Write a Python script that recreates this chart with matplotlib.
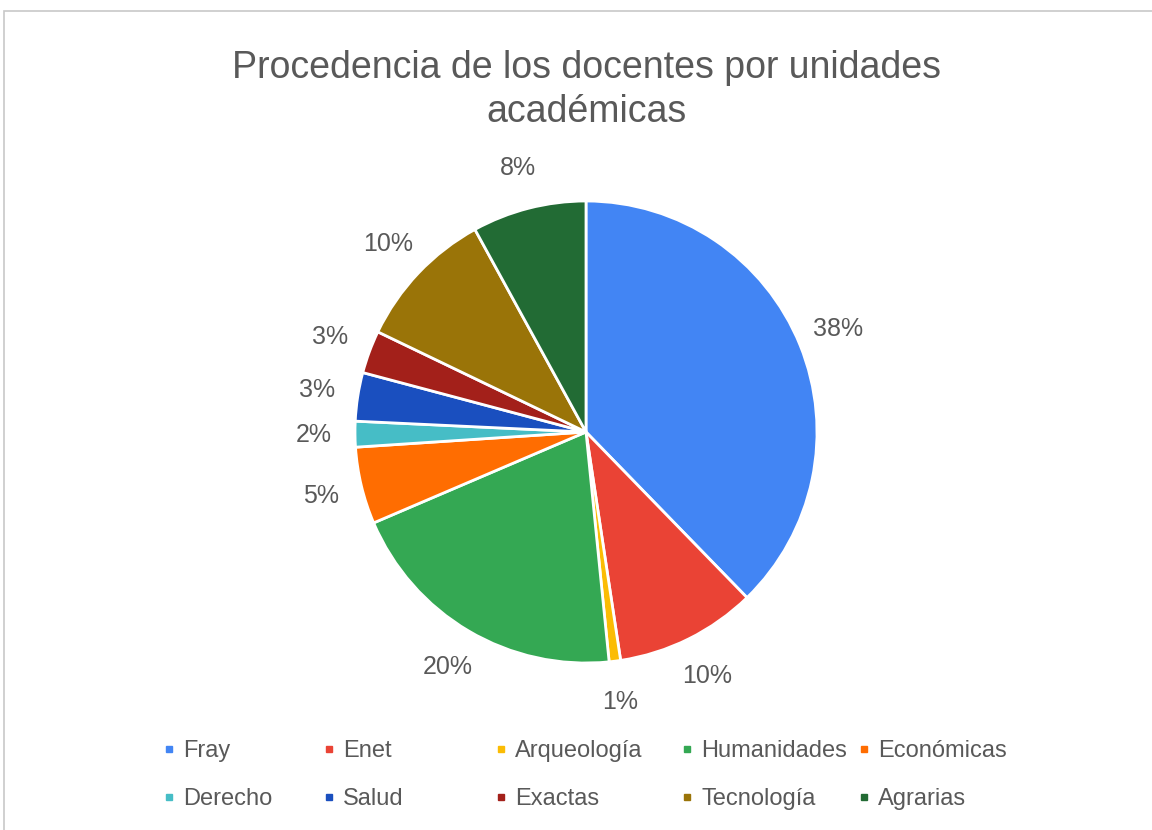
import matplotlib
matplotlib.use("Agg")
from matplotlib import pyplot as plt
from matplotlib.lines import Line2D
from matplotlib.patches import Rectangle

# datos (porcentajes)
unidades = ["Fray", "Enet", "Arqueología", "Humanidades", "Económicas",
            "Derecho", "Salud", "Exactas", "Tecnología", "Agrarias"]
porcentajes = [37.8, 9.9, 0.8, 20.2, 5.4, 1.8, 3.4, 3.0, 9.9, 8.0]
colores = ["#4285F4", "#EA4335", "#FBBC04", "#34A853", "#FF6D01",
           "#46BDC6", "#1A4FBF", "#A3201A", "#9A7408", "#226B34"]

titulo = "Procedencia de los docentes por unidades\nacadémicas"
gris = "#595959"

plt.rcParams["font.family"] = ["Liberation Sans", "DejaVu Sans"]

fig = plt.figure(figsize=(11.52, 8.30), dpi=100)
fig.patch.set_facecolor("white")

# marco de la captura
fig.patches.append(Rectangle((4 / 1152, -0.1), 1.2, 1.1 - 11 / 830,
                             transform=fig.transFigure, fill=False,
                             edgecolor="#c8c8c8", linewidth=1.2))

fig.text(586 / 1152, 1 - 90 / 830, titulo, ha="center", va="center",
         fontsize=27, color=gris, linespacing=1.32)

ax = fig.add_axes([(586 - 231) / 1152, 1 - (432 + 231) / 830,
                   462 / 1152, 462 / 830])
wedges, texts, autotexts = ax.pie(
    porcentajes, colors=colores, startangle=90, counterclock=False,
    autopct="%.0f%%", pctdistance=1.18,
    wedgeprops=dict(edgecolor="white", linewidth=2),
    textprops=dict(fontsize=18, color=gris))
ax.set_xlim(-1, 1)
ax.set_ylim(-1, 1)
ax.set_aspect("equal")
ax.axis("off")

# leyenda en dos filas, una leyenda por columna
col_x = [163, 323, 495, 681, 858]
for i, x in enumerate(col_x):
    idx = [i, i + 5]
    handles = [Line2D([], [], marker="s", ls="", color=colores[j],
                      markersize=5) for j in idx]
    fig.legend(handles, [unidades[j] for j in idx], loc="upper left",
               bbox_to_anchor=(x / 1152, 1 - 740 / 830), frameon=False,
               fontsize=17, labelcolor=gris, handlelength=0.5,
               handletextpad=0.35, borderpad=0, borderaxespad=0,
               labelspacing=1.1)

plt.savefig("out.png", dpi=100)
plt.close()
